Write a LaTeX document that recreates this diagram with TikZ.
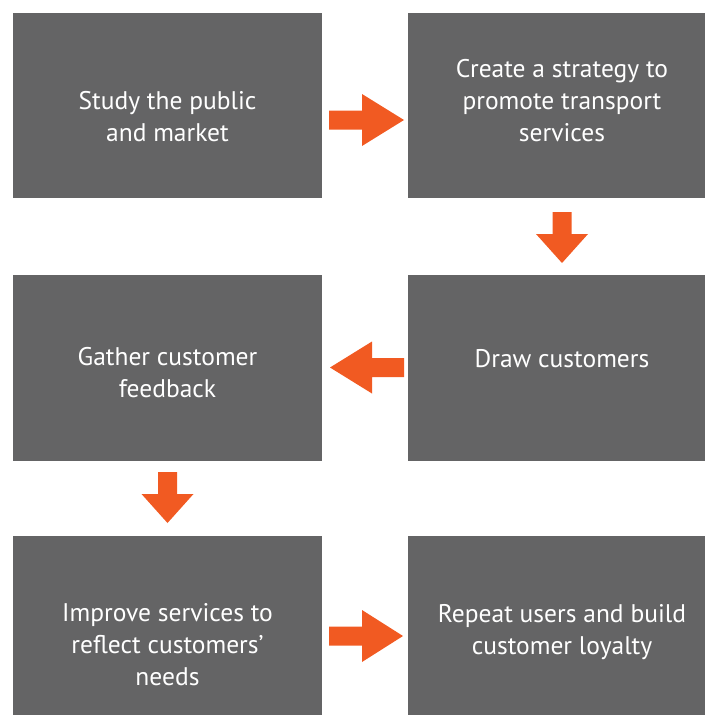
\documentclass[tikz,border=0pt]{standalone}
\usepackage{fontspec}
\setmainfont{PT Sans}
\usepackage{xcolor}
\usetikzlibrary{positioning}
\definecolor{boxgray}{HTML}{646465}
\definecolor{flow}{HTML}{F15A22}

\begin{document}
\begin{tikzpicture}[
  x=1pt, y=-1pt,
  box/.style={fill=boxgray, inner sep=0pt, anchor=north west},
  txt/.style={text=white, font=\fontsize{25.5}{32}\selectfont, align=center, anchor=base},
  pics/flowarrow/.style 2 args={code={
    \fill[flow] (0,-9.5) -- (#1-#2,-9.5) -- (#1-#2,-26) -- (#1,0)
      -- (#1-#2,26) -- (#1-#2,9.5) -- (0,9.5) -- cycle;
  }}
]
  \useasboundingbox (0,0) rectangle (705,715);

  % boxes
  \node[box, minimum width=309pt, minimum height=185pt] (study) at (13,13) {};
  \node[box, minimum width=297pt, minimum height=185pt] (create) at (408,13) {};
  \node[box, minimum width=309pt, minimum height=186pt] (gather) at (13,275) {};
  \node[box, minimum width=297pt, minimum height=186pt] (draw) at (408,275) {};
  \node[box, minimum width=309pt, minimum height=179pt] (improve) at (13,536) {};
  \node[box, minimum width=297pt, minimum height=179pt] (repeat) at (408,536) {};

  % texts (base = last line)
  \node[txt] (study-txt) at (167.5,141) {Study the public\\and market};
  \node[txt] (create-txt) at (562,141) {Create a strategy to\\promote transport\\services};
  \node[txt] (gather-txt) at (167.5,397) {Gather customer\\feedback};
  \node[txt] (draw-txt) at (562,367) {Draw customers};
  \node[txt] (improve-txt) at (167.5,685) {Improve services to\\reflect customers’\\needs};
  \node[txt] (repeat-txt) at (562,654) {Repeat users and build\\customer loyalty};

  % block arrows
  \pic at (329,120) {flowarrow={75}{42}};
  \pic[rotate=-90] at (562,212) {flowarrow={51}{29}};
  \pic[rotate=180] at (404,367.5) {flowarrow={74}{42}};
  \pic[rotate=-90] at (167.5,472) {flowarrow={51}{29}};
  \pic at (329,636) {flowarrow={74}{41}};
\end{tikzpicture}
\end{document}
